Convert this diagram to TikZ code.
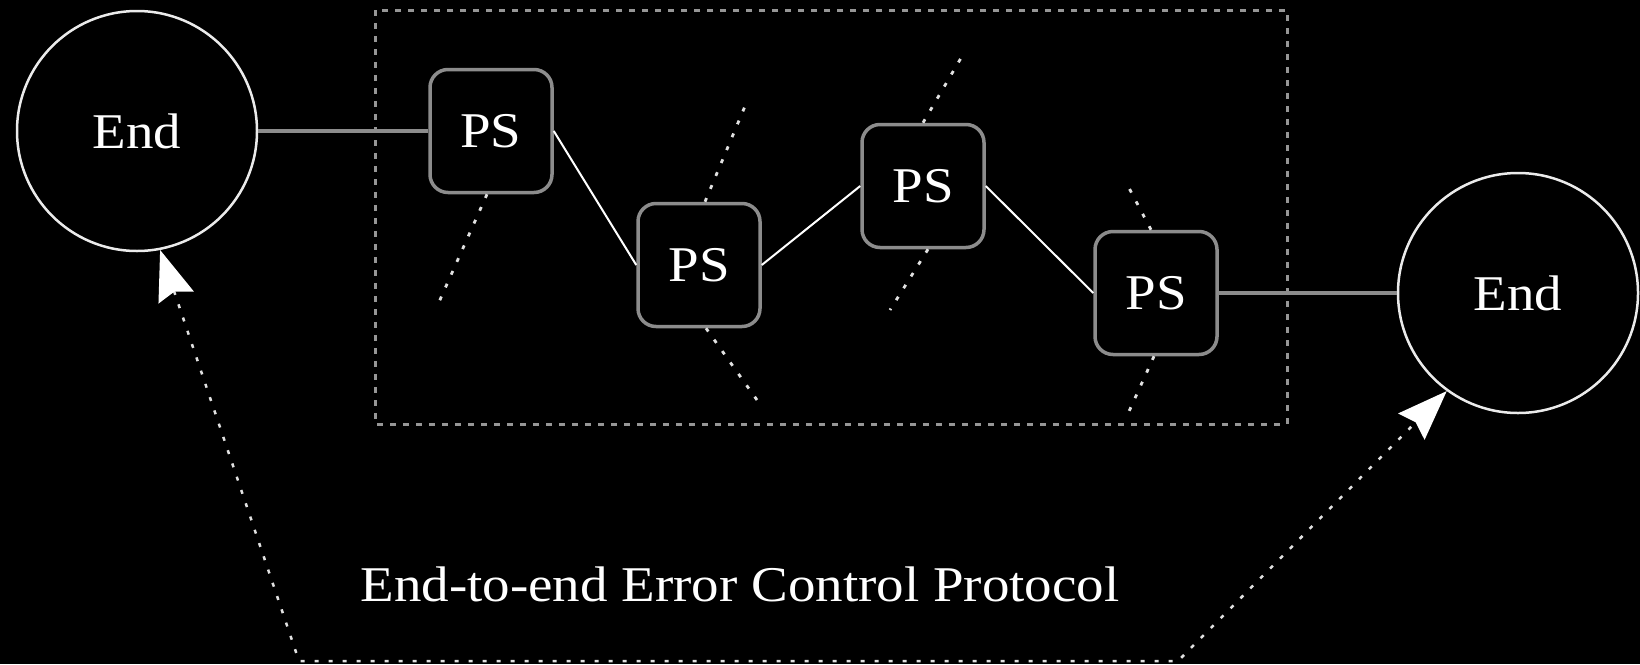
\documentclass[tikz,border=0pt]{standalone}
\usepackage{fontspec}
\setmainfont{Liberation Serif}[FakeStretch=1.1]
\usetikzlibrary{arrows.meta}
\definecolor{boxgray}{RGB}{140,140,140}
\definecolor{framegray}{RGB}{150,150,150}
\definecolor{dotwhite}{RGB}{225,225,225}
\definecolor{ringwhite}{RGB}{235,235,235}
\tikzset{
  bigfont/.style={font=\fontsize{50}{60}\selectfont},
  endnode/.style={circle, draw=ringwhite, line width=2.5pt, minimum size=240pt, inner sep=0pt, text=white, bigfont},
  psnode/.style={rectangle, rounded corners=18pt, draw=boxgray, line width=3.5pt, minimum width=122pt, minimum height=123pt, inner sep=0pt, text=white, bigfont},
  heavylink/.style={draw=boxgray, line width=4pt},
  lightlink/.style={draw=white, line width=2pt},
  stub/.style={draw=dotwhite, line width=2.8pt, dash pattern=on 4pt off 10pt},
  frameline/.style={draw=framegray, line width=3pt, dash pattern=on 6pt off 7pt},
  looplink/.style={draw=dotwhite, line width=2.5pt, dash pattern=on 4pt off 10pt,
    {Stealth[length=50pt, width=37pt, inset=6pt, fill=white, color=white]}-{Stealth[length=50pt, width=37pt, inset=6pt, fill=white, color=white]}}
}
\begin{document}
\begin{tikzpicture}[x=1pt, y=-1pt]
  \fill[black] (0,0) rectangle (1640,664);
  \useasboundingbox (0,0) rectangle (1640,664);

  % frame
  \draw[frameline] (375,10) rectangle (1287,424);

  % nodes
  \node[endnode] (end1) at (137,131) {End};
  \node[endnode] (end2) at (1518,293) {End};
  \node[psnode] (p1) at (491,131) {PS};
  \node[psnode] (p2) at (699,265) {PS};
  \node[psnode] (p3) at (923,186) {PS};
  \node[psnode] (p4) at (1156,293) {PS};

  % links
  \draw[heavylink] (end1.east) -- (p1.west);
  \draw[lightlink] (p1.east) -- (p2.west);
  \draw[lightlink] (p2.east) -- (p3.west);
  \draw[lightlink] (p3.east) -- (p4.west);
  \draw[heavylink] (p4.east) -- (end2.west);

  % stubs
  \coordinate (s1) at (439,302);
  \coordinate (s2n) at (748,99);
  \coordinate (s2s) at (757,400);
  \coordinate (s3n) at (961,58);
  \coordinate (s3s) at (890,310);
  \coordinate (s4n) at (1129,188);
  \coordinate (s4s) at (1126,418);
  \draw[stub] ([xshift=-4pt]p1.south) -- (s1);
  \draw[stub] ([xshift=6pt]p2.north) -- (s2n);
  \draw[stub] ([xshift=7pt]p2.south) -- (s2s);
  \draw[stub] (p3.north) -- (s3n);
  \draw[stub] ([xshift=5pt]p3.south) -- (s3s);
  \draw[stub] ([xshift=-5pt]p4.north) -- (s4n);
  \draw[stub] ([xshift=-2pt]p4.south) -- (s4s);

  % end-to-end loop
  \coordinate (c1) at (299,661);
  \coordinate (c2) at (1178,661);
  \draw[looplink] (end1.-79) -- (c1) -- (c2) -- (end2.-126);

  \node[text=white, bigfont, anchor=base, inner sep=0pt] (title) at (740,601) {End-to-end Error Control Protocol};
\end{tikzpicture}
\end{document}
